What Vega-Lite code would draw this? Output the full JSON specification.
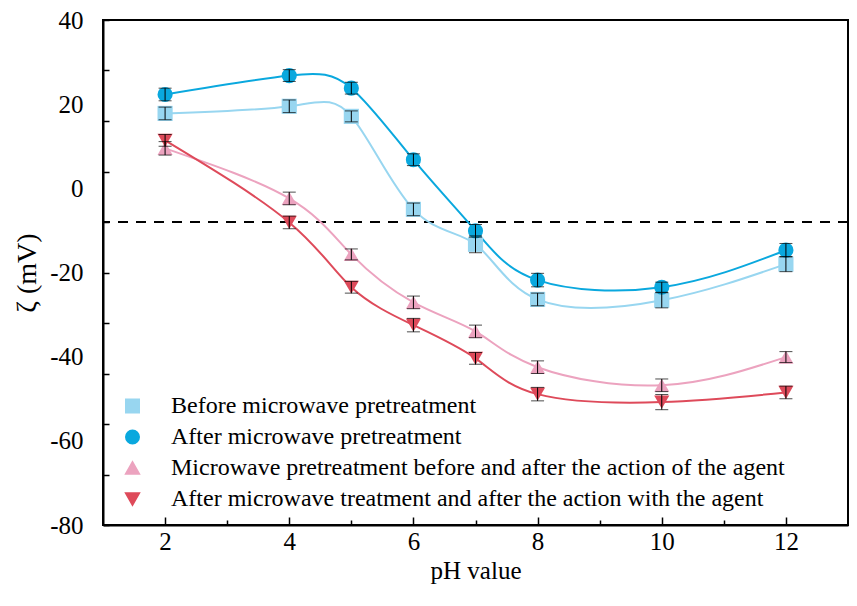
{
  "$schema": "https://vega.github.io/schema/vega-lite/v6.json",
  "autosize": "none",
  "padding": {"left": 103, "top": 20, "right": 9, "bottom": 81},
  "width": 745,
  "height": 505,
  "background": "white",
  "config": {
    "view": {"stroke": "black", "strokeWidth": 2},
    "font": "Liberation Serif",
    "axis": {"labelFont": "Liberation Serif", "titleFont": "Liberation Serif"},
    "legend": {"labelFont": "Liberation Serif"}
  },
  "data": {"values": [
    {"pH": 2, "zeta": 17.8, "err": 1.5, "series": "Before microwave pretreatment"},
    {"pH": 4, "zeta": 19.5, "err": 1.5, "series": "Before microwave pretreatment"},
    {"pH": 5, "zeta": 17.1, "err": 1.3, "series": "Before microwave pretreatment"},
    {"pH": 6, "zeta": -5.0, "err": 1.5, "series": "Before microwave pretreatment"},
    {"pH": 7, "zeta": -13.3, "err": 2.0, "series": "Before microwave pretreatment"},
    {"pH": 8, "zeta": -26.4, "err": 1.5, "series": "Before microwave pretreatment"},
    {"pH": 10, "zeta": -26.6, "err": 1.8, "series": "Before microwave pretreatment"},
    {"pH": 12, "zeta": -18.0, "err": 1.8, "series": "Before microwave pretreatment"},
    {"pH": 2, "zeta": 22.3, "err": 1.5, "series": "After microwave pretreatment"},
    {"pH": 4, "zeta": 26.8, "err": 1.4, "series": "After microwave pretreatment"},
    {"pH": 5, "zeta": 23.8, "err": 1.4, "series": "After microwave pretreatment"},
    {"pH": 6, "zeta": 6.8, "err": 1.4, "series": "After microwave pretreatment"},
    {"pH": 7, "zeta": -10.1, "err": 1.5, "series": "After microwave pretreatment"},
    {"pH": 8, "zeta": -21.8, "err": 1.6, "series": "After microwave pretreatment"},
    {"pH": 10, "zeta": -23.5, "err": 1.2, "series": "After microwave pretreatment"},
    {"pH": 12, "zeta": -14.7, "err": 1.6, "series": "After microwave pretreatment"},
    {"pH": 2, "zeta": 9.5, "err": 1.6, "series": "Microwave pretreatment before and after the action of the agent"},
    {"pH": 4, "zeta": -2.4, "err": 1.5, "series": "Microwave pretreatment before and after the action of the agent"},
    {"pH": 5, "zeta": -15.7, "err": 1.3, "series": "Microwave pretreatment before and after the action of the agent"},
    {"pH": 6, "zeta": -27.1, "err": 1.5, "series": "Microwave pretreatment before and after the action of the agent"},
    {"pH": 7, "zeta": -34.0, "err": 1.5, "series": "Microwave pretreatment before and after the action of the agent"},
    {"pH": 8, "zeta": -42.5, "err": 1.5, "series": "Microwave pretreatment before and after the action of the agent"},
    {"pH": 10, "zeta": -46.8, "err": 1.5, "series": "Microwave pretreatment before and after the action of the agent"},
    {"pH": 12, "zeta": -40.1, "err": 1.3, "series": "Microwave pretreatment before and after the action of the agent"},
    {"pH": 2, "zeta": 11.4, "err": 1.4, "series": "After microwave treatment and after the action with the agent"},
    {"pH": 4, "zeta": -8.1, "err": 1.5, "series": "After microwave treatment and after the action with the agent"},
    {"pH": 5, "zeta": -23.5, "err": 1.4, "series": "After microwave treatment and after the action with the agent"},
    {"pH": 6, "zeta": -32.5, "err": 1.6, "series": "After microwave treatment and after the action with the agent"},
    {"pH": 7, "zeta": -40.4, "err": 1.4, "series": "After microwave treatment and after the action with the agent"},
    {"pH": 8, "zeta": -48.9, "err": 1.6, "series": "After microwave treatment and after the action with the agent"},
    {"pH": 10, "zeta": -50.8, "err": 1.8, "series": "After microwave treatment and after the action with the agent"},
    {"pH": 12, "zeta": -48.5, "err": 1.5, "series": "After microwave treatment and after the action with the agent"}
  ]},
  "encoding": {
    "x": {
      "field": "pH", "type": "quantitative",
      "scale": {"domain": [1, 13], "nice": false, "zero": false},
      "axis": {
        "title": "pH value",
        "titleFont": "Liberation Serif", "titleFontSize": 25, "titleFontWeight": "normal", "titleColor": "black",
        "titlePadding": 4,
        "values": [2, 3, 4, 5, 6, 7, 8, 9, 10, 11, 12],
        "labelExpr": "datum.value % 2 === 0 ? '' + datum.value : ''",
        "labelFont": "Liberation Serif", "labelFontSize": 25, "labelColor": "black",
        "labelPadding": 12,
        "tickSize": {"condition": {"test": "datum.value % 2 === 0", "value": -8}, "value": -5},
        "tickColor": "black", "tickWidth": 1.5,
        "domainColor": "black", "domainWidth": 2,
        "grid": false
      }
    },
    "y": {
      "field": "zeta", "type": "quantitative",
      "scale": {"domain": [-80, 40], "nice": false, "zero": false},
      "axis": {
        "title": "ζ (mV)",
        "titleFont": "Liberation Serif", "titleFontSize": 28, "titleFontWeight": "normal", "titleColor": "black",
        "titlePadding": 8,
        "values": [-80, -68, -60, -56, -44, -40, -32, -20, -8, 0, 4, 16, 20, 28, 40],
        "labelExpr": "datum.value % 20 === 0 ? '' + datum.value : ''",
        "labelFont": "Liberation Serif", "labelFontSize": 25, "labelColor": "black",
        "labelPadding": 26,
        "tickSize": -6,
        "tickOpacity": {"condition": {"test": "abs(datum.value - 40) % 12 === 0", "value": 1}, "value": 0},
        "tickColor": "black", "tickWidth": 1.5,
        "domainColor": "black", "domainWidth": 2,
        "grid": false
      }
    },
    "color": {
      "field": "series", "type": "nominal",
      "scale": {
        "domain": ["Before microwave pretreatment", "After microwave pretreatment", "Microwave pretreatment before and after the action of the agent", "After microwave treatment and after the action with the agent"],
        "range": ["#98d6f0", "#0aa8de", "#eca3bf", "#de4a5a"]
      },
      "legend": {
        "orient": "none", "legendX": 17.5, "legendY": 374,
        "title": null, "padding": 0,
        "labelFont": "Liberation Serif", "labelFontSize": 24, "labelColor": "black", "labelLimit": 0,
        "labelOffset": 26.5, "rowPadding": 7,
        "symbolSize": 169, "symbolStrokeWidth": 2, "symbolOpacity": 1
      }
    }
  },
  "layer": [
    {
      "mark": {"type": "rule", "color": "black", "strokeWidth": 2, "strokeDash": [10, 8]},
      "encoding": {"y": {"datum": -8}, "x": null, "color": null}
    },
    {
      "mark": {"type": "line", "interpolate": "natural", "strokeWidth": 2}
    },
    {
      "mark": {"type": "point", "filled": true, "opacity": 1, "size": 230},
      "encoding": {
        "shape": {
          "field": "series", "type": "nominal", "legend": null,
          "scale": {
            "domain": ["Before microwave pretreatment", "After microwave pretreatment", "Microwave pretreatment before and after the action of the agent", "After microwave treatment and after the action with the agent"],
            "range": ["square", "circle", "triangle-up", "triangle-down"]
          }
        }
      }
    },
    {
      "mark": {"type": "errorbar", "ticks": {"size": 13, "color": "black", "strokeWidth": 1.5}, "color": "black", "strokeWidth": 1.5},
      "encoding": {
        "yError": {"field": "err"},
        "color": null
      }
    }
  ]
}
